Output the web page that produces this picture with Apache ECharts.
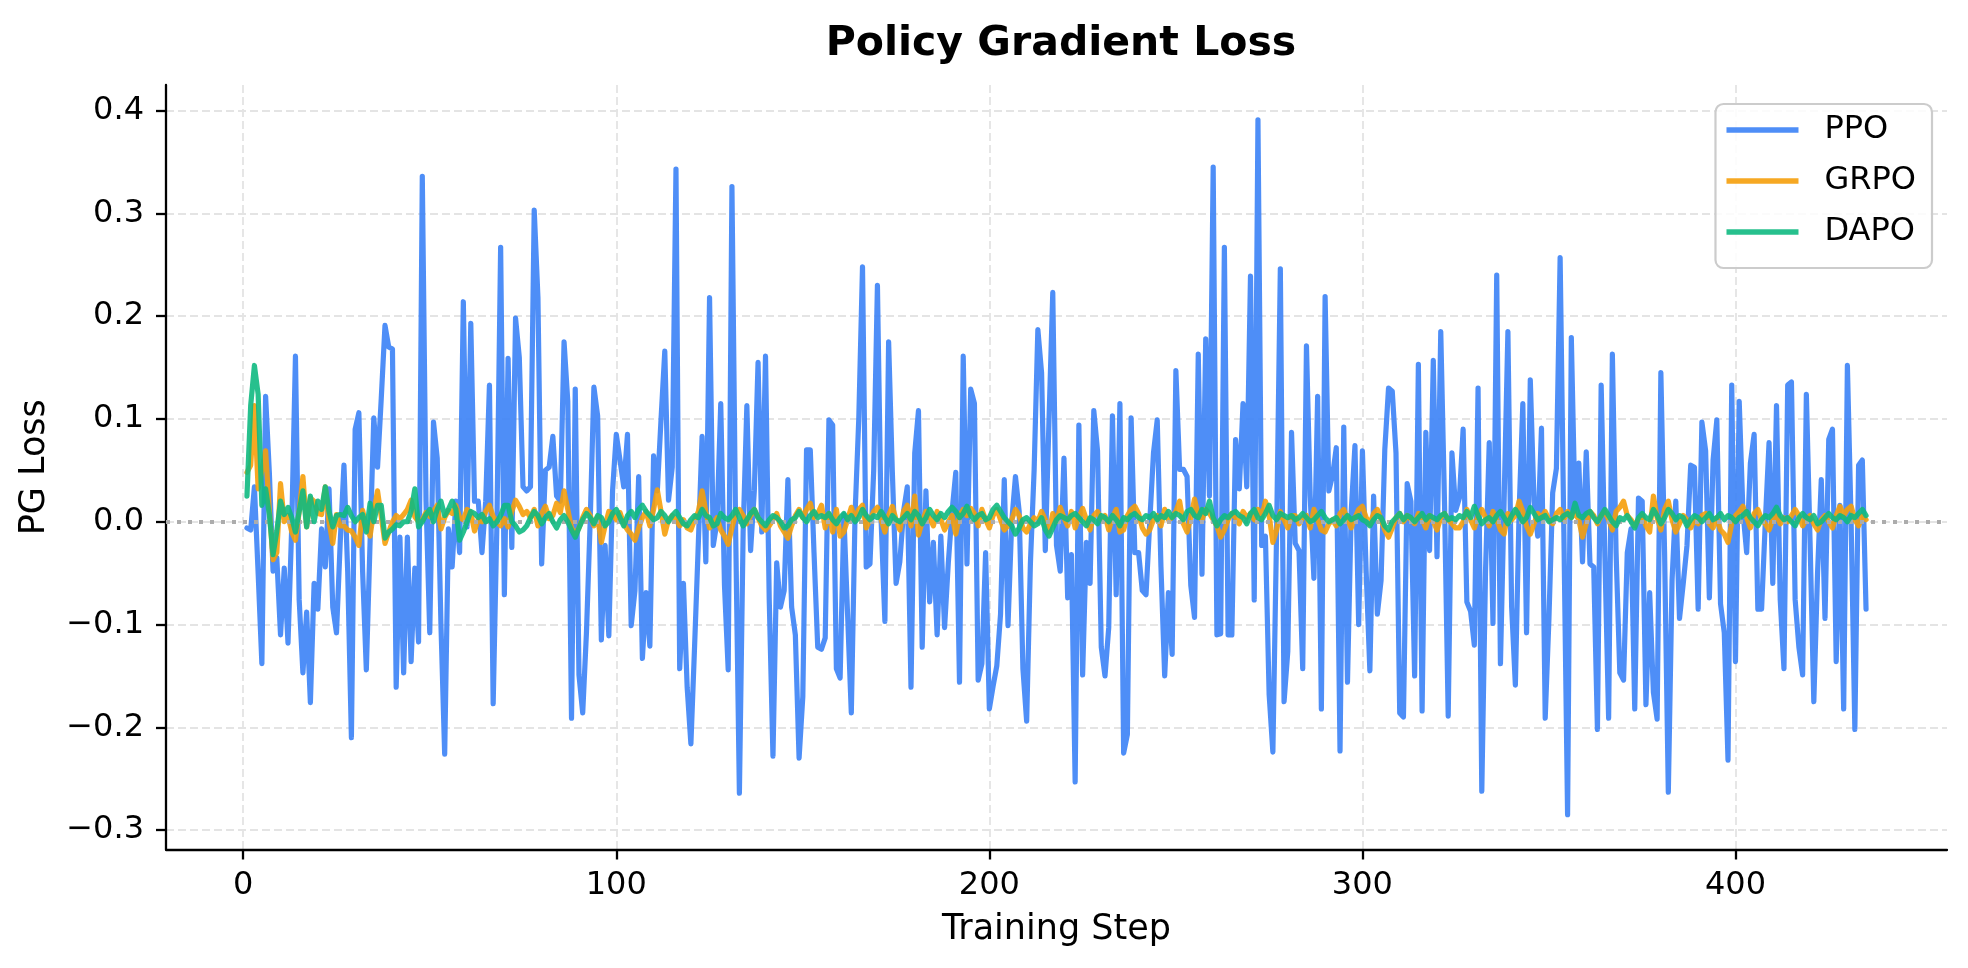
<!DOCTYPE html>
<html>
<head>
<meta charset="utf-8">
<script src="https://cdn.jsdelivr.net/npm/echarts@6/dist/echarts.min.js"></script>
<style>
html,body{margin:0;padding:0;background:#fff;}
#chart{width:1968px;height:968px;}
</style>
</head>
<body>
<div id="chart"></div>
<script>
const seriesNames = ['PPO', 'GRPO', 'DAPO'];
const xTicks = [0, 100, 200, 300, 400];
const yTicks = [-0.3, -0.2, -0.1, 0.0, 0.1, 0.2, 0.3, 0.4];

const ppo = [
-0.006,-0.008,0.034,-0.05,-0.138,0.122,0.048,-0.048,-0.035,-0.110,
-0.045,-0.118,-0.005,0.161,-0.076,-0.147,-0.088,-0.176,-0.060,-0.085,
-0.007,-0.044,0.032,-0.083,-0.108,-0.02,0.055,-0.048,-0.210,0.090,
0.106,-0.048,-0.144,-0.02,0.101,0.053,0.12,0.191,0.17,0.168,
-0.161,-0.015,-0.147,-0.015,-0.136,-0.045,-0.117,0.336,0.02,-0.108,
0.097,0.062,-0.1,-0.226,-0.007,-0.044,0.020,-0.030,0.214,-0.005,
0.193,0.02,0.02,-0.030,0.02,0.133,-0.177,-0.002,0.267,-0.071,
0.159,-0.025,0.198,0.16,0.034,0.03,0.034,0.303,0.218,-0.041,
0.05,0.053,0.083,0.025,0.02,0.175,0.117,-0.191,0.129,-0.149,
-0.186,-0.108,0.0,0.131,0.103,-0.115,-0.023,-0.111,0.03,0.085,
0.06,0.034,0.085,-0.101,-0.067,0.044,-0.133,-0.069,-0.121,0.064,
0.03,0.1,0.166,0.021,0.053,0.343,-0.143,-0.06,-0.161,-0.216,
-0.12,-0.02,0.083,-0.039,0.218,-0.023,0.0,0.115,-0.062,-0.144,
0.326,-0.01,-0.264,-0.01,0.113,-0.028,0.03,0.155,-0.01,0.161,
-0.076,-0.228,-0.04,-0.083,-0.067,0.041,-0.083,-0.11,-0.23,-0.17,
0.07,0.07,-0.03,-0.122,-0.124,-0.113,0.099,0.094,-0.143,-0.152,
0.007,-0.09,-0.186,0.007,0.1,0.248,-0.044,-0.041,0.05,0.23,
0.0,-0.097,0.175,0.048,-0.06,-0.039,0.01,0.034,-0.161,0.067,
0.108,-0.122,0.03,-0.078,-0.02,-0.11,-0.014,-0.103,-0.04,0.01,
0.048,-0.156,0.161,-0.041,0.129,0.115,-0.154,-0.138,-0.03,-0.182,
-0.16,-0.14,-0.09,0.041,-0.101,0.0,0.044,0.01,-0.143,-0.194,
-0.041,0.05,0.187,0.145,-0.028,0.1,0.223,-0.023,-0.048,0.062,
-0.074,-0.032,-0.253,0.094,-0.149,-0.02,-0.06,0.108,0.069,-0.122,
-0.15,-0.103,0.103,-0.071,0.115,-0.225,-0.207,0.101,-0.03,-0.03,
-0.067,-0.071,0.0,0.067,0.099,-0.044,-0.15,-0.069,-0.129,0.147,
0.051,0.051,0.044,-0.062,-0.093,0.163,-0.051,0.178,0.025,0.345,
-0.11,-0.109,0.267,-0.11,-0.11,0.08,0.032,0.115,0.034,0.239,
-0.076,0.391,-0.023,-0.014,-0.168,-0.224,-0.01,0.246,-0.175,-0.126,
0.087,-0.021,-0.028,-0.143,0.171,0.025,-0.055,0.122,-0.182,0.219,
0.03,0.045,0.072,-0.223,0.092,-0.156,0.01,0.074,-0.1,0.069,
-0.048,-0.145,0.025,-0.09,-0.057,0.07,0.13,0.127,0.067,-0.186,
-0.19,0.037,0.02,-0.15,0.153,-0.184,0.087,-0.028,0.157,-0.034,
0.185,0.02,-0.189,0.067,0.011,0.023,0.09,-0.078,-0.087,-0.12,
0.13,-0.262,-0.048,0.077,-0.099,0.24,-0.138,0.023,0.185,-0.083,
-0.159,0.01,0.115,-0.108,0.138,0.02,-0.014,0.091,-0.191,-0.094,
0.028,0.052,0.257,-0.01,-0.285,0.179,0.01,0.057,-0.039,0.068,
-0.041,-0.044,-0.202,0.133,-0.034,-0.191,0.163,-0.03,-0.147,-0.154,
-0.03,-0.007,-0.182,0.023,0.02,-0.178,-0.069,-0.166,-0.192,0.145,
-0.03,-0.263,-0.057,0.02,-0.094,-0.06,-0.023,0.055,0.053,-0.085,
0.097,0.069,-0.074,0.06,0.099,-0.08,-0.108,-0.232,0.133,-0.136,
0.117,0.01,-0.03,0.057,0.085,-0.085,-0.085,0.0,0.077,-0.06,
0.113,-0.076,-0.143,0.133,0.136,-0.076,-0.122,-0.149,0.124,-0.02,
-0.175,-0.05,0.041,-0.094,0.08,0.09,-0.136,0.016,-0.182,0.152,
0.0,-0.202,0.055,0.06,-0.085
];

const grpo = [
0.048,0.055,0.113,0.032,0.05,0.069,0.011,-0.037,-0.03,0.037,
0.0,0.006,-0.01,-0.018,0.01,0.044,-0.005,0.023,0.02,0.008,
0.007,0.034,0.0,-0.021,0.007,-0.004,-0.004,-0.008,-0.009,-0.015,
-0.023,0.011,-0.005,-0.014,0.01,0.03,0.005,-0.021,-0.01,0.0,
0.006,0.003,0.007,0.012,0.021,0.005,0.0,0.002,0.009,0.005,
0.01,0.016,-0.007,0.004,0.011,0.008,0.016,0.004,0.002,0.012,
0.009,-0.009,0.002,0.0,0.01,0.016,0.005,0.0,-0.004,0.003,
-0.005,0.01,0.021,0.015,0.007,
0.010,0.004,0.012,-0.004,0.008,0.015,0.003,0.006,0.018,0.009,0.030,0.012,-0.006,-0.012,-0.006,0.004,0.012,0.006,-0.004,0.005,
-0.020,-0.004,0.010,0.008,0.002,0.009,-0.002,-0.008,-0.012,-0.018,-0.006,0.004,0.010,-0.004,0.012,0.031,0.010,-0.012,0.002,0.006,
0.002,-0.004,0.002,-0.006,-0.008,0.002,0.010,0.030,0.010,-0.006,-0.002,0.004,-0.008,-0.014,-0.022,-0.006,0.008,0.012,0.006,-0.002,
0.006,0.012,0.004,-0.004,-0.008,-0.004,0.002,0.008,-0.004,-0.010,-0.016,-0.004,0.006,0.012,0.004,0.012,0.018,0.004,0.008,0.016,
-0.006,0.008,-0.010,0.012,-0.014,-0.010,0.002,0.014,0.002,0.012,0.016,-0.006,0.002,0.010,0.014,0.002,-0.010,0.006,0.015,0.002,
-0.008,0.010,0.016,-0.004,0.025,-0.013,0.000,0.010,0.004,-0.004,0.010,0.002,-0.008,0.000,0.006,-0.012,0.006,0.012,0.006,0.013,
0.008,-0.004,0.012,0.002,-0.006,0.006,0.012,0.002,-0.008,-0.004,0.002,0.012,0.006,-0.006,-0.010,-0.002,0.004,0.000,0.010,0.002,
-0.010,0.008,0.000,0.014,0.004,-0.004,0.010,-0.006,0.004,0.013,0.002,-0.008,0.006,0.010,0.002,0.006,-0.008,0.004,0.012,-0.010,
-0.008,0.006,0.012,0.015,0.008,-0.006,-0.012,-0.008,0.002,0.006,-0.004,0.012,0.002,0.004,0.010,0.020,-0.002,-0.010,0.004,0.022,
0.006,0.002,0.012,0.008,0.002,-0.004,-0.015,-0.008,0.002,0.008,0.004,-0.002,0.010,0.004,0.008,0.002,0.012,0.004,0.020,0.006,
-0.020,-0.008,0.010,0.002,-0.006,0.006,0.006,-0.002,0.004,0.006,-0.006,0.012,0.002,-0.008,-0.010,-0.002,0.002,-0.004,0.008,0.012,
0.002,-0.006,0.004,0.012,0.015,0.004,-0.002,0.008,0.012,0.002,-0.008,-0.015,-0.006,0.004,0.008,0.000,0.006,0.002,-0.002,0.008,
0.002,-0.006,0.006,0.000,-0.008,0.004,0.008,0.002,-0.002,-0.006,-0.006,0.000,0.012,0.002,-0.006,0.006,0.012,0.004,-0.004,0.010,
0.002,-0.008,-0.012,0.008,0.002,0.006,0.020,0.010,-0.004,-0.012,-0.002,0.008,0.004,0.010,0.002,-0.002,0.008,0.012,0.002,0.010,
0.004,0.008,0.002,-0.015,-0.002,0.010,0.006,-0.002,0.006,0.010,0.002,-0.008,0.010,0.014,0.020,0.006,0.002,-0.004,0.002,0.006,
-0.004,-0.010,0.025,0.004,-0.008,0.012,0.020,0.002,-0.010,-0.002,0.006,0.002,-0.006,0.002,-0.002,0.006,0.008,-0.002,-0.006,0.004,
-0.008,-0.012,-0.020,-0.002,0.006,0.010,0.015,0.004,-0.006,0.008,0.012,0.002,-0.002,-0.008,0.002,0.006,-0.002,0.004,0.000,0.006,
0.012,0.006,-0.004,0.002,0.006,-0.002,-0.008,0.002,0.006,0.000,-0.006,0.006,0.015,0.006,0.012,0.015,0.002,-0.004,0.006,0.002
];

const dapo = [
0.025,0.113,0.152,0.124,0.016,0.032,0.007,-0.032,-0.009,0.02,
0.007,0.014,0.004,-0.01,0.01,0.03,-0.005,0.025,0.0,0.02,
0.012,0.034,0.01,-0.005,0.006,0.007,0.006,0.014,0.006,0.0,
0.004,0.007,-0.01,0.018,0.0,0.016,0.016,-0.016,-0.01,-0.007,
-0.003,-0.004,0.0,0.0,0.01,0.032,-0.005,0.0,0.007,0.012,
0.0,0.012,0.02,0.006,0.012,0.02,0.012,-0.018,-0.01,0.0,
0.01,0.008,0.004,0.007,0.0,0.003,-0.004,0.0,0.006,0.016,
0.016,0.0,-0.004,-0.01,-0.008,
-0.004,0.004,0.010,0.006,-0.002,0.004,0.008,0.000,-0.006,0.002,0.006,0.000,-0.008,-0.015,-0.006,0.002,0.008,0.004,-0.002,0.006,
0.004,-0.004,0.000,0.008,0.012,0.004,-0.004,0.006,0.010,0.004,0.012,0.016,0.010,0.006,0.002,0.004,0.010,0.006,0.000,0.006,
0.010,0.004,-0.002,-0.004,0.002,0.006,0.004,0.012,0.006,0.004,-0.004,-0.002,0.008,0.004,0.002,0.006,0.012,0.004,-0.004,0.002,
0.008,0.012,0.004,0.000,-0.004,0.002,0.006,0.004,0.000,-0.006,-0.004,0.002,0.004,0.010,0.004,0.000,0.006,0.010,0.004,0.006,
0.004,0.008,0.002,-0.002,0.004,0.008,0.002,0.006,0.000,0.004,0.012,0.006,0.002,0.006,0.004,0.010,0.004,-0.002,0.006,0.002,
0.000,0.004,0.008,0.002,0.010,0.006,-0.002,0.004,0.012,0.006,0.002,0.008,0.004,0.010,0.014,0.010,0.004,0.008,0.015,0.006,
0.002,0.006,0.008,0.002,0.004,0.012,0.016,0.010,0.004,0.000,-0.004,-0.012,-0.006,0.002,0.004,0.000,-0.004,-0.002,0.004,-0.008,
-0.014,-0.006,0.002,0.006,0.004,0.002,0.006,0.008,0.004,0.000,-0.004,0.004,0.002,-0.002,0.006,0.004,0.000,0.006,0.002,-0.004,
0.004,0.002,0.006,0.008,0.004,0.002,0.006,0.004,0.008,0.002,0.006,0.004,0.010,0.004,0.008,0.006,0.002,0.010,0.012,0.006,
0.004,0.012,0.008,0.020,0.004,-0.004,0.002,0.006,0.004,0.008,0.010,0.006,0.004,-0.002,0.008,0.012,0.004,0.002,0.008,0.016,
0.006,0.002,0.008,0.006,0.004,0.006,0.002,0.004,0.008,0.004,0.000,0.002,0.006,0.010,0.004,0.000,0.002,0.004,-0.002,0.002,
0.006,0.002,0.004,0.006,0.002,0.000,-0.004,0.002,0.006,0.004,-0.004,-0.008,0.000,0.004,0.008,0.002,0.006,0.004,0.000,0.004,
0.008,0.002,0.006,0.004,0.002,0.006,0.008,0.002,0.004,0.002,0.006,0.004,0.010,0.004,0.015,0.006,-0.002,0.002,0.004,0.000,
0.006,0.010,0.004,-0.002,0.006,0.012,0.006,0.000,0.004,0.014,0.008,0.002,0.004,0.006,0.000,0.002,0.004,0.002,0.006,0.008,
0.004,0.018,0.006,0.004,0.008,0.010,0.004,0.000,0.006,0.012,0.006,0.000,-0.004,0.004,0.002,0.006,0.000,-0.006,0.004,0.008,
0.004,0.002,0.012,0.006,-0.002,0.004,0.012,0.008,0.002,0.006,0.004,-0.004,0.002,0.006,0.004,0.000,0.004,0.008,0.002,0.004,
0.008,0.002,0.006,0.004,0.000,0.004,0.006,0.010,0.004,0.000,-0.004,0.002,0.006,0.004,0.008,0.014,0.006,0.002,0.004,0.000,
-0.004,0.004,0.008,0.004,0.002,0.006,-0.002,0.000,0.004,0.008,0.004,0.002,0.006,0.004,0.000,0.006,0.004,0.008,0.012,0.006
];

const steps = ppo.map((_, i) => i + 1);
const colors = ['rgba(59,130,246,0.9)', 'rgba(245,158,11,0.9)', 'rgba(16,185,129,0.9)'];
const FONT = 'DejaVu Sans';

function pairs(vals) { return vals.map((v, i) => [steps[i], v]); }
const allVals = ppo.concat(grpo, dapo);
const dMin = Math.min(...allVals), dMax = Math.max(...allVals);
const xPad = (steps[steps.length - 1] - steps[0]) * 0.05;
const yPad = (dMax - dMin) * 0.05;

function yFmt(v) {
  const s = Math.abs(v).toFixed(1);
  return v < -1e-9 ? '\u2212' + s : s;
}

const chart = echarts.init(document.getElementById('chart'), null, {renderer: 'canvas'});
const lineSeries = [ppo, grpo, dapo].map((vals, k) => ({
  name: seriesNames[k],
  type: 'line',
  data: pairs(vals),
  showSymbol: false,
  symbol: 'none',
  z: 3 + k,
  color: colors[k],
  itemStyle: {color: colors[k]},
  lineStyle: {width: 5.2, color: colors[k], cap: 'round', join: 'round'}
}));

const option = {
  animation: false,
  backgroundColor: '#ffffff',
  textStyle: {fontFamily: FONT},
  title: {
    text: 'Policy Gradient Loss',
    left: 1056,
    top: 19,
    textAlign: 'center',
    textStyle: {fontFamily: FONT, fontSize: 41, fontWeight: 'bold', color: '#000'}
  },
  legend: {
    data: seriesNames,
    orient: 'vertical',
    right: 36,
    top: 104,
    itemWidth: 72,
    itemHeight: 5.3,
    icon: 'rect',
    itemGap: 19,
    padding: [10, 16, 20, 11],
    borderColor: '#cccccc',
    borderWidth: 2.2,
    borderRadius: 8,
    backgroundColor: 'rgba(255,255,255,0.85)',
    textStyle: {fontFamily: FONT, fontSize: 32, color: '#000', lineHeight: 30, padding: [0, 0, 0, 21]}
  },
  grid: {left: 166, right: 21, top: 85, bottom: 118.5, containLabel: false},
  xAxis: {
    type: 'value',
    min: steps[0] - xPad,
    max: steps[steps.length - 1] + xPad,
    name: 'Training Step',
    nameLocation: 'middle',
    nameGap: 63,
    nameTextStyle: {fontFamily: FONT, fontSize: 35, color: '#000'},
    axisLine: {show: true, onZero: false, lineStyle: {color: '#000', width: 2.3}},
    axisTick: {show: true, length: 10, customValues: xTicks, lineStyle: {color: '#000', width: 2.3}},
    axisLabel: {customValues: xTicks, margin: 20, fontFamily: FONT, fontSize: 32, color: '#000'},
    splitLine: {show: true, lineStyle: {color: '#e4e4e4', width: 1.8, type: [8, 4]}}
  },
  yAxis: {
    type: 'value',
    min: dMin - yPad,
    max: dMax + yPad,
    name: 'PG Loss',
    nameLocation: 'middle',
    nameGap: 114,
    nameRotate: 90,
    nameTextStyle: {fontFamily: FONT, fontSize: 35, color: '#000'},
    axisLine: {show: true, onZero: false, lineStyle: {color: '#000', width: 2.3}},
    axisTick: {show: true, length: 10, customValues: yTicks, lineStyle: {color: '#000', width: 2.3}},
    axisLabel: {customValues: yTicks, margin: 22, fontFamily: FONT, fontSize: 32, color: '#000', formatter: yFmt},
    splitLine: {show: true, lineStyle: {color: '#e4e4e4', width: 1.8, type: [8, 4]}}
  },
  series: [{
    name: 'zero',
    type: 'line',
    data: [[steps[0], 0]],
    showSymbol: false,
    symbol: 'none',
    lineStyle: {opacity: 0},
    z: 2,
    silent: true,
    markLine: {
      silent: true,
      symbol: ['none', 'none'],
      label: {show: false},
      lineStyle: {color: '#acacac', width: 4, type: [4, 7]},
      data: [{yAxis: 0}]
    }
  }].concat(lineSeries)
};
chart.setOption(option);
</script>
</body>
</html>
